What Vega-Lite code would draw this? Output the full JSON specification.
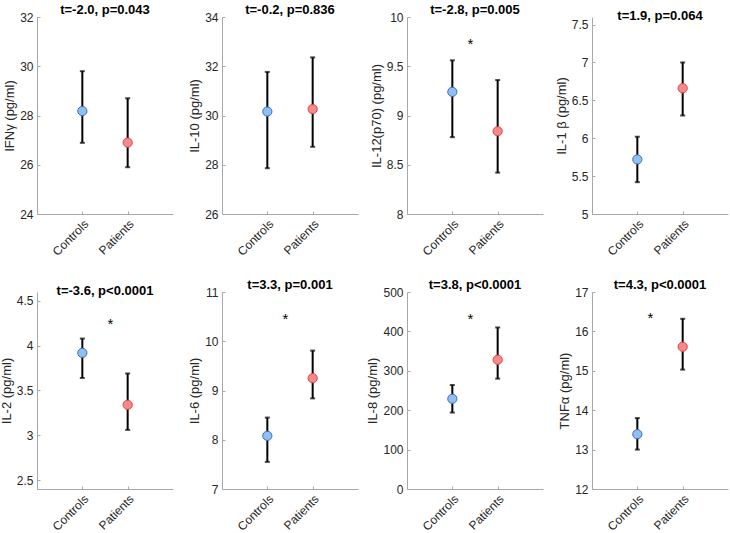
{
  "$schema": "https://vega.github.io/schema/vega-lite/v6.json",
  "background": "white",
  "padding": {"left": 0, "top": 4, "right": 5, "bottom": 0},
  "datasets": {
    "stats": [
      {"cytokine": "IFNg", "group": "Controls", "mean": 28.18, "lo": 26.89, "hi": 29.80},
      {"cytokine": "IFNg", "group": "Patients", "mean": 26.90, "lo": 25.90, "hi": 28.70},
      {"cytokine": "IL10", "group": "Controls", "mean": 30.16, "lo": 27.86, "hi": 31.77},
      {"cytokine": "IL10", "group": "Patients", "mean": 30.26, "lo": 28.73, "hi": 32.36},
      {"cytokine": "IL12", "group": "Controls", "mean": 9.24, "lo": 8.78, "hi": 9.56},
      {"cytokine": "IL12", "group": "Patients", "mean": 8.84, "lo": 8.42, "hi": 9.36},
      {"cytokine": "IL1b", "group": "Controls", "mean": 5.72, "lo": 5.42, "hi": 6.02},
      {"cytokine": "IL1b", "group": "Patients", "mean": 6.66, "lo": 6.30, "hi": 7.00},
      {"cytokine": "IL2", "group": "Controls", "mean": 3.92, "lo": 3.64, "hi": 4.08},
      {"cytokine": "IL2", "group": "Patients", "mean": 3.34, "lo": 3.06, "hi": 3.69},
      {"cytokine": "IL6", "group": "Controls", "mean": 8.08, "lo": 7.55, "hi": 8.45},
      {"cytokine": "IL6", "group": "Patients", "mean": 9.25, "lo": 8.84, "hi": 9.81},
      {"cytokine": "IL8", "group": "Controls", "mean": 229, "lo": 194, "hi": 264},
      {"cytokine": "IL8", "group": "Patients", "mean": 328, "lo": 280, "hi": 410},
      {"cytokine": "TNFa", "group": "Controls", "mean": 13.39, "lo": 13.0, "hi": 13.8},
      {"cytokine": "TNFa", "group": "Patients", "mean": 15.61, "lo": 15.03, "hi": 16.32}
    ],
    "stars": [
      {"cytokine": "IL12", "group": "Controls", "y": 9.73},
      {"cytokine": "IL2", "group": "Controls", "y": 4.24},
      {"cytokine": "IL6", "group": "Controls", "y": 10.45},
      {"cytokine": "IL8", "group": "Controls", "y": 432},
      {"cytokine": "TNFa", "group": "Controls", "y": 16.34}
    ]
  },
  "columns": 4,
  "spacing": {"row": 78, "column": 49},
  "bounds": "flush",
  "concat": [
    {
      "title": "t=-2.0, p=0.043",
      "width": 136, "height": 197,
      "data": {"name": "stats"},
      "transform": [{"filter": "datum.cytokine === 'IFNg'"}],
      "encoding": {
        "x": {"field": "group", "type": "nominal", "scale": {"type": "point", "padding": 1, "domain": ["Controls", "Patients"]}, "axis": {"title": null, "labelAngle": -45}}
      },
      "layer": [
        {"mark": {"type": "errorbar", "ticks": {"size": 5}, "thickness": 2, "color": "black"},
         "encoding": {"y": {"field": "lo", "type": "quantitative", "scale": {"domain": [24, 32]}, "axis": {"title": "IFNγ (pg/ml)", "values": [24, 26, 28, 30, 32], "format": "~f", "labelOverlap": false, "labelFlush": false}}, "y2": {"field": "hi"}}},
        {"mark": {"type": "point", "shape": "circle", "size": 85, "opacity": 1, "strokeWidth": 1},
         "encoding": {"y": {"field": "mean", "type": "quantitative", "axis": {"title": "IFNγ (pg/ml)", "values": [24, 26, 28, 30, 32], "format": "~f", "labelOverlap": false, "labelFlush": false}},
           "fill": {"field": "group", "type": "nominal", "scale": {"domain": ["Controls", "Patients"], "range": ["#8ec1ee", "#f28b8b"]}, "legend": null},
           "stroke": {"field": "group", "type": "nominal", "scale": {"domain": ["Controls", "Patients"], "range": ["#4466cc", "#e8403f"]}, "legend": null}}}
      ]
    },
    {
      "title": "t=-0.2, p=0.836",
      "width": 136, "height": 197,
      "data": {"name": "stats"},
      "transform": [{"filter": "datum.cytokine === 'IL10'"}],
      "encoding": {
        "x": {"field": "group", "type": "nominal", "scale": {"type": "point", "padding": 1, "domain": ["Controls", "Patients"]}, "axis": {"title": null, "labelAngle": -45}}
      },
      "layer": [
        {"mark": {"type": "errorbar", "ticks": {"size": 5}, "thickness": 2, "color": "black"},
         "encoding": {"y": {"field": "lo", "type": "quantitative", "scale": {"domain": [26, 34]}, "axis": {"title": "IL-10 (pg/ml)", "values": [26, 28, 30, 32, 34], "format": "~f", "labelOverlap": false, "labelFlush": false}}, "y2": {"field": "hi"}}},
        {"mark": {"type": "point", "shape": "circle", "size": 85, "opacity": 1, "strokeWidth": 1},
         "encoding": {"y": {"field": "mean", "type": "quantitative", "axis": {"title": "IL-10 (pg/ml)", "values": [26, 28, 30, 32, 34], "format": "~f", "labelOverlap": false, "labelFlush": false}},
           "fill": {"field": "group", "type": "nominal", "scale": {"domain": ["Controls", "Patients"], "range": ["#8ec1ee", "#f28b8b"]}, "legend": null},
           "stroke": {"field": "group", "type": "nominal", "scale": {"domain": ["Controls", "Patients"], "range": ["#4466cc", "#e8403f"]}, "legend": null}}}
      ]
    },
    {
      "title": "t=-2.8, p=0.005",
      "width": 136, "height": 197,
      "data": {"name": "stats"},
      "transform": [{"filter": "datum.cytokine === 'IL12'"}],
      "encoding": {
        "x": {"field": "group", "type": "nominal", "scale": {"type": "point", "padding": 1, "domain": ["Controls", "Patients"]}, "axis": {"title": null, "labelAngle": -45}}
      },
      "layer": [
        {"mark": {"type": "errorbar", "ticks": {"size": 5}, "thickness": 2, "color": "black"},
         "encoding": {"y": {"field": "lo", "type": "quantitative", "scale": {"domain": [8, 10]}, "axis": {"title": "IL-12(p70) (pg/ml)", "values": [8, 8.5, 9, 9.5, 10], "format": "~f", "labelOverlap": false, "labelFlush": false}}, "y2": {"field": "hi"}}},
        {"mark": {"type": "point", "shape": "circle", "size": 85, "opacity": 1, "strokeWidth": 1},
         "encoding": {"y": {"field": "mean", "type": "quantitative", "axis": {"title": "IL-12(p70) (pg/ml)", "values": [8, 8.5, 9, 9.5, 10], "format": "~f", "labelOverlap": false, "labelFlush": false}},
           "fill": {"field": "group", "type": "nominal", "scale": {"domain": ["Controls", "Patients"], "range": ["#8ec1ee", "#f28b8b"]}, "legend": null},
           "stroke": {"field": "group", "type": "nominal", "scale": {"domain": ["Controls", "Patients"], "range": ["#4466cc", "#e8403f"]}, "legend": null}}},
        {"data": {"name": "stars"}, "transform": [{"filter": "datum.cytokine === 'IL12'"}],
         "mark": {"type": "text", "text": "*", "dx": 18, "fontSize": 15, "font": "Liberation Sans", "baseline": "middle", "color": "black"},
         "encoding": {"y": {"field": "y", "type": "quantitative", "axis": {"title": "IL-12(p70) (pg/ml)", "values": [8, 8.5, 9, 9.5, 10], "format": "~f", "labelOverlap": false, "labelFlush": false}}}}
      ]
    },
    {
      "title": "t=1.9, p=0.064",
      "width": 136, "height": 197,
      "data": {"name": "stats"},
      "transform": [{"filter": "datum.cytokine === 'IL1b'"}],
      "encoding": {
        "x": {"field": "group", "type": "nominal", "scale": {"type": "point", "padding": 1, "domain": ["Controls", "Patients"]}, "axis": {"title": null, "labelAngle": -45}}
      },
      "layer": [
        {"mark": {"type": "errorbar", "ticks": {"size": 5}, "thickness": 2, "color": "black"},
         "encoding": {"y": {"field": "lo", "type": "quantitative", "scale": {"domain": [5, 7.5]}, "axis": {"title": "IL-1 β (pg/ml)", "values": [5, 5.5, 6, 6.5, 7, 7.5], "format": "~f", "labelOverlap": false, "labelFlush": false}}, "y2": {"field": "hi"}}},
        {"mark": {"type": "point", "shape": "circle", "size": 85, "opacity": 1, "strokeWidth": 1},
         "encoding": {"y": {"field": "mean", "type": "quantitative", "axis": {"title": "IL-1 β (pg/ml)", "values": [5, 5.5, 6, 6.5, 7, 7.5], "format": "~f", "labelOverlap": false, "labelFlush": false}},
           "fill": {"field": "group", "type": "nominal", "scale": {"domain": ["Controls", "Patients"], "range": ["#8ec1ee", "#f28b8b"]}, "legend": null},
           "stroke": {"field": "group", "type": "nominal", "scale": {"domain": ["Controls", "Patients"], "range": ["#4466cc", "#e8403f"]}, "legend": null}}}
      ]
    },
    {
      "title": "t=-3.6, p<0.0001",
      "width": 136, "height": 197,
      "data": {"name": "stats"},
      "transform": [{"filter": "datum.cytokine === 'IL2'"}],
      "encoding": {
        "x": {"field": "group", "type": "nominal", "scale": {"type": "point", "padding": 1, "domain": ["Controls", "Patients"]}, "axis": {"title": null, "labelAngle": -45}}
      },
      "layer": [
        {"mark": {"type": "errorbar", "ticks": {"size": 5}, "thickness": 2, "color": "black"},
         "encoding": {"y": {"field": "lo", "type": "quantitative", "scale": {"domain": [2.5, 4.5]}, "axis": {"title": "IL-2 (pg/ml)", "values": [2.5, 3, 3.5, 4, 4.5], "format": "~f", "labelOverlap": false, "labelFlush": false}}, "y2": {"field": "hi"}}},
        {"mark": {"type": "point", "shape": "circle", "size": 85, "opacity": 1, "strokeWidth": 1},
         "encoding": {"y": {"field": "mean", "type": "quantitative", "axis": {"title": "IL-2 (pg/ml)", "values": [2.5, 3, 3.5, 4, 4.5], "format": "~f", "labelOverlap": false, "labelFlush": false}},
           "fill": {"field": "group", "type": "nominal", "scale": {"domain": ["Controls", "Patients"], "range": ["#8ec1ee", "#f28b8b"]}, "legend": null},
           "stroke": {"field": "group", "type": "nominal", "scale": {"domain": ["Controls", "Patients"], "range": ["#4466cc", "#e8403f"]}, "legend": null}}},
        {"data": {"name": "stars"}, "transform": [{"filter": "datum.cytokine === 'IL2'"}],
         "mark": {"type": "text", "text": "*", "dx": 28, "fontSize": 15, "font": "Liberation Sans", "baseline": "middle", "color": "black"},
         "encoding": {"y": {"field": "y", "type": "quantitative", "axis": {"title": "IL-2 (pg/ml)", "values": [2.5, 3, 3.5, 4, 4.5], "format": "~f", "labelOverlap": false, "labelFlush": false}}}}
      ]
    },
    {
      "title": "t=3.3, p=0.001",
      "width": 136, "height": 197,
      "data": {"name": "stats"},
      "transform": [{"filter": "datum.cytokine === 'IL6'"}],
      "encoding": {
        "x": {"field": "group", "type": "nominal", "scale": {"type": "point", "padding": 1, "domain": ["Controls", "Patients"]}, "axis": {"title": null, "labelAngle": -45}}
      },
      "layer": [
        {"mark": {"type": "errorbar", "ticks": {"size": 5}, "thickness": 2, "color": "black"},
         "encoding": {"y": {"field": "lo", "type": "quantitative", "scale": {"domain": [7, 11]}, "axis": {"title": "IL-6 (pg/ml)", "values": [7, 8, 9, 10, 11], "format": "~f", "labelOverlap": false, "labelFlush": false}}, "y2": {"field": "hi"}}},
        {"mark": {"type": "point", "shape": "circle", "size": 85, "opacity": 1, "strokeWidth": 1},
         "encoding": {"y": {"field": "mean", "type": "quantitative", "axis": {"title": "IL-6 (pg/ml)", "values": [7, 8, 9, 10, 11], "format": "~f", "labelOverlap": false, "labelFlush": false}},
           "fill": {"field": "group", "type": "nominal", "scale": {"domain": ["Controls", "Patients"], "range": ["#8ec1ee", "#f28b8b"]}, "legend": null},
           "stroke": {"field": "group", "type": "nominal", "scale": {"domain": ["Controls", "Patients"], "range": ["#4466cc", "#e8403f"]}, "legend": null}}},
        {"data": {"name": "stars"}, "transform": [{"filter": "datum.cytokine === 'IL6'"}],
         "mark": {"type": "text", "text": "*", "dx": 18, "fontSize": 15, "font": "Liberation Sans", "baseline": "middle", "color": "black"},
         "encoding": {"y": {"field": "y", "type": "quantitative", "axis": {"title": "IL-6 (pg/ml)", "values": [7, 8, 9, 10, 11], "format": "~f", "labelOverlap": false, "labelFlush": false}}}}
      ]
    },
    {
      "title": "t=3.8, p<0.0001",
      "width": 136, "height": 197,
      "data": {"name": "stats"},
      "transform": [{"filter": "datum.cytokine === 'IL8'"}],
      "encoding": {
        "x": {"field": "group", "type": "nominal", "scale": {"type": "point", "padding": 1, "domain": ["Controls", "Patients"]}, "axis": {"title": null, "labelAngle": -45}}
      },
      "layer": [
        {"mark": {"type": "errorbar", "ticks": {"size": 5}, "thickness": 2, "color": "black"},
         "encoding": {"y": {"field": "lo", "type": "quantitative", "scale": {"domain": [0, 500]}, "axis": {"title": "IL-8 (pg/ml)", "values": [0, 100, 200, 300, 400, 500], "format": "~f", "labelOverlap": false, "labelFlush": false}}, "y2": {"field": "hi"}}},
        {"mark": {"type": "point", "shape": "circle", "size": 85, "opacity": 1, "strokeWidth": 1},
         "encoding": {"y": {"field": "mean", "type": "quantitative", "axis": {"title": "IL-8 (pg/ml)", "values": [0, 100, 200, 300, 400, 500], "format": "~f", "labelOverlap": false, "labelFlush": false}},
           "fill": {"field": "group", "type": "nominal", "scale": {"domain": ["Controls", "Patients"], "range": ["#8ec1ee", "#f28b8b"]}, "legend": null},
           "stroke": {"field": "group", "type": "nominal", "scale": {"domain": ["Controls", "Patients"], "range": ["#4466cc", "#e8403f"]}, "legend": null}}},
        {"data": {"name": "stars"}, "transform": [{"filter": "datum.cytokine === 'IL8'"}],
         "mark": {"type": "text", "text": "*", "dx": 18, "fontSize": 15, "font": "Liberation Sans", "baseline": "middle", "color": "black"},
         "encoding": {"y": {"field": "y", "type": "quantitative", "axis": {"title": "IL-8 (pg/ml)", "values": [0, 100, 200, 300, 400, 500], "format": "~f", "labelOverlap": false, "labelFlush": false}}}}
      ]
    },
    {
      "title": "t=4.3, p<0.0001",
      "width": 136, "height": 197,
      "data": {"name": "stats"},
      "transform": [{"filter": "datum.cytokine === 'TNFa'"}],
      "encoding": {
        "x": {"field": "group", "type": "nominal", "scale": {"type": "point", "padding": 1, "domain": ["Controls", "Patients"]}, "axis": {"title": null, "labelAngle": -45}}
      },
      "layer": [
        {"mark": {"type": "errorbar", "ticks": {"size": 5}, "thickness": 2, "color": "black"},
         "encoding": {"y": {"field": "lo", "type": "quantitative", "scale": {"domain": [12, 17]}, "axis": {"title": "TNFα (pg/ml)", "values": [12, 13, 14, 15, 16, 17], "format": "~f", "labelOverlap": false, "labelFlush": false}}, "y2": {"field": "hi"}}},
        {"mark": {"type": "point", "shape": "circle", "size": 85, "opacity": 1, "strokeWidth": 1},
         "encoding": {"y": {"field": "mean", "type": "quantitative", "axis": {"title": "TNFα (pg/ml)", "values": [12, 13, 14, 15, 16, 17], "format": "~f", "labelOverlap": false, "labelFlush": false}},
           "fill": {"field": "group", "type": "nominal", "scale": {"domain": ["Controls", "Patients"], "range": ["#8ec1ee", "#f28b8b"]}, "legend": null},
           "stroke": {"field": "group", "type": "nominal", "scale": {"domain": ["Controls", "Patients"], "range": ["#4466cc", "#e8403f"]}, "legend": null}}},
        {"data": {"name": "stars"}, "transform": [{"filter": "datum.cytokine === 'TNFa'"}],
         "mark": {"type": "text", "text": "*", "dx": 13, "fontSize": 15, "font": "Liberation Sans", "baseline": "middle", "color": "black"},
         "encoding": {"y": {"field": "y", "type": "quantitative", "axis": {"title": "TNFα (pg/ml)", "values": [12, 13, 14, 15, 16, 17], "format": "~f", "labelOverlap": false, "labelFlush": false}}}}
      ]
    }
  ],
  "resolve": {"scale": {"y": "independent"}},
  "config": {
    "view": {"stroke": null},
    "font": "Liberation Sans",
    "axis": {
      "grid": false,
      "domainColor": "#a8a8a8",
      "tickColor": "#a8a8a8",
      "tickSize": -3,
      "labelColor": "#262626",
      "labelFont": "Liberation Sans",
      "labelFontSize": 12,
      "labelPadding": 7,
      "labelOverlap": false,
      "labelFlush": false,
      "titleColor": "#262626",
      "titleFont": "Liberation Sans",
      "titleFontSize": 13,
      "titleFontWeight": "normal",
      "titlePadding": 3
    },
    "title": {"font": "Liberation Sans", "fontSize": 13, "fontWeight": "bold", "color": "black", "offset": -6}
  }
}
